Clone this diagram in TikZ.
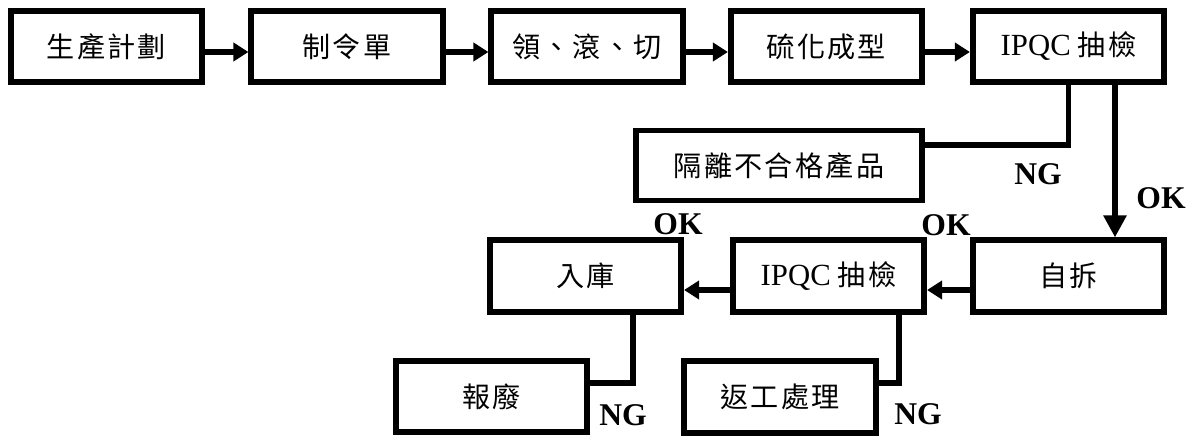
\documentclass[tikz,border=0pt]{standalone}
\usepackage{fontspec}
\setmainfont{Liberation Serif}
\newfontfamily\cjk[LetterSpace=8]{Noto Sans CJK TC}
\usetikzlibrary{arrows.meta}
\tikzset{
  box/.style={draw,line width=3.2pt,minimum width=3.83cm,minimum height=1.43cm,inner sep=0pt,font=\fontsize{16}{19}\selectfont},
  link/.style={line width=3pt},
  arr/.style={link,-{Triangle[length=3mm,width=3.6mm]}},
  tag/.style={font=\fontsize{18}{20}\selectfont\bfseries}
}
\newcommand\qctext{{\fontsize{17.5}{20}\selectfont IPQC} {\cjk 抽檢}}
\begin{document}
\begin{tikzpicture}
\useasboundingbox (0,0) rectangle (23.86,8.72);
% top row
\node[box] (plan) at (2.13,7.79) {\cjk 生產計劃};
\node[box] (order) at (6.94,7.79) {\cjk 制令單};
\node[box] (roll) at (11.74,7.79) {\cjk 領、滾、切};
\node[box] (cure) at (16.53,7.79) {\cjk 硫化成型};
\node[box] (qc) at (21.37,7.79) {\qctext};
\draw[arr] ([yshift=-1.1mm]plan.east) -- ([yshift=-1.1mm]order.west);
\draw[arr] ([yshift=-1.1mm]order.east) -- ([yshift=-1.1mm]roll.west);
\draw[arr] ([yshift=-1.1mm]roll.east) -- ([yshift=-1.1mm]cure.west);
\draw[arr] ([yshift=-1.1mm]cure.east) -- ([yshift=-1.1mm]qc.west);
% hold and bottom rows
\node[box,minimum width=5.72cm,minimum height=1.4cm] (hold) at (15.58,5.41) {\cjk 隔離不合格產品};
\node[box] (self) at (21.37,3.2) {\cjk 自拆};
\node[box] (qcb) at (16.57,3.2) {\qctext};
\node[box] (store) at (11.71,3.2) {\cjk 入庫};
\node[box] (scrap) at (9.83,0.79) {\cjk 報廢};
\node[box] (rework) at (15.6,0.78) {\cjk 返工處理};
\draw[link] (qc.south) |- ([yshift=4.1mm]hold.east);
\draw[arr,line width=3.6pt,-{Triangle[length=4.4mm,width=4.4mm]}] ([xshift=9.3mm]qc.south) -- ([xshift=9.3mm]self.north);
\draw[arr] ([yshift=-2.8mm]self.west) -- ([yshift=-2.8mm]qcb.east);
\draw[arr] ([yshift=-2.8mm]qcb.west) -- ([yshift=-2.8mm]store.east);
\draw[link] ([xshift=9.5mm]store.south) |- ([yshift=2.7mm]scrap.east);
\draw[link] ([xshift=14.1mm]qcb.south) |- ([yshift=2.8mm]rework.east);
% labels
\node[tag] (ng1) at (20.76,5.24) {NG};
\node[tag] (ok1) at (23.22,4.76) {OK};
\node[tag] (ok2) at (18.92,4.22) {OK};
\node[tag] (ok3) at (13.56,4.24) {OK};
\node[tag] (ng2) at (12.46,0.42) {NG};
\node[tag] (ng3) at (18.36,0.44) {NG};
\end{tikzpicture}
\end{document}
